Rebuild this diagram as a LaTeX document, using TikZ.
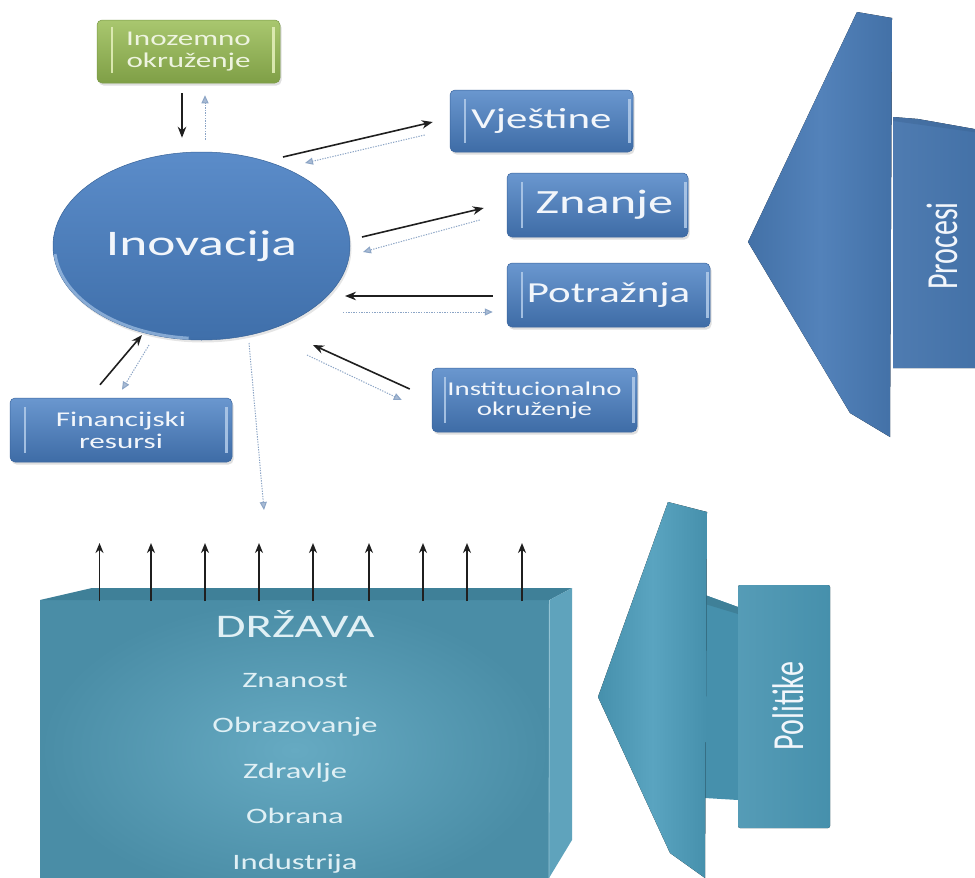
\documentclass[tikz,border=0pt]{standalone}
\usepackage{fontspec}
\setmainfont{Carlito}
\usetikzlibrary{shapes.geometric,arrows.meta,shadows,calc}
\definecolor{btop}{HTML}{6A97CF}
\definecolor{bbot}{HTML}{3E6CA6}
\definecolor{bedge}{HTML}{3A659E}
\definecolor{bbar}{HTML}{B3CCEA}
\definecolor{ctop}{HTML}{5B8CC9}
\definecolor{cbot}{HTML}{3F6FAA}
\definecolor{crim}{HTML}{B5D0EE}
\definecolor{gtop}{HTML}{A9C76F}
\definecolor{gbot}{HTML}{7F9F46}
\definecolor{gedge}{HTML}{7B9B48}
\definecolor{gbar}{HTML}{E2EEB8}
\definecolor{gtxt}{HTML}{EEF4E0}
\definecolor{txtw}{HTML}{F2F6FB}
\definecolor{dotc}{HTML}{8CA5C6}
\definecolor{pdark}{HTML}{4371A7}
\definecolor{pmid}{HTML}{5382BA}
\definecolor{tdark}{HTML}{4A8DA6}
\definecolor{tmid}{HTML}{66AAC2}
\definecolor{ttop}{HTML}{3F8098}
\definecolor{tside}{HTML}{5FA3BC}
\definecolor{ttxt}{HTML}{E0F0F5}
\definecolor{podark}{HTML}{4690AC}
\definecolor{pomid}{HTML}{5AA4C0}
\newcommand\stx[1]{\scalebox{1.48}[1]{#1}}
\begin{document}
\begin{tikzpicture}[x=1pt,y=-1pt,
  every node/.style={text=txtw},
  bluebox/.style={rectangle, rounded corners=5pt, draw=bedge, line width=0.5pt,
    top color=btop, bottom color=bbot, inner sep=0pt, align=center,
    drop shadow={opacity=0.25, shadow xshift=1.5pt, shadow yshift=-2.5pt}},
  greenbox/.style={bluebox, draw=gedge, top color=gtop, bottom color=gbot, text=gtxt},
  barline/.style={draw=bbar, line width=2.5pt, opacity=0.85},
  gbarline/.style={draw=gbar, line width=2.5pt, opacity=0.9},
  blk/.style={draw=black!88, line width=1.6pt, -{Stealth[length=11pt,width=8.5pt]}},
  dotarr/.style={draw=dotc, line width=1pt, dash pattern=on 1.3pt off 1.3pt,
    -{Triangle[length=8pt,width=7pt,color=dotc,fill=dotc!75]}},
  vtext/.style={font=\fontsize{30}{32}\selectfont, inner sep=0pt},
  drztxt/.style={text=ttxt, anchor=base, inner sep=0pt, font=\fontsize{22}{24}\selectfont}
]
\useasboundingbox (0,0) rectangle (975,878);
\clip (0,0) rectangle (975,878);
\fill[white] (0,0) rectangle (975,878);

% ---------- Procesi arrow ----------
\fill[left color=pdark, right color=pdark, middle color=pmid]
  (748,242) -- (857,12) -- (892,18) -- (890,437) -- (850,413) -- cycle;
\fill[left color=pmid!95!black, right color=pdark]
  (893,117) -- (918,119) -- (980,130) -- (980,368) -- (893,368) -- cycle;
\fill[pdark!85!black, opacity=0.35] (893,117) -- (918,119) -- (980,130) -- (980,133) -- (893,121) -- cycle;
\node[vtext] (pro) at (942,246) {\stx{\rotatebox{90}{Procesi}}};

% ---------- Politike arrow ----------
\fill[podark] (705,595) -- (738,607) -- (738,800) -- (705,798) -- cycle;
\fill[ttop] (705,595) -- (738,607) -- (738,614) -- (705,604) -- cycle;
\fill[left color=podark, right color=podark, middle color=pomid]
  (598,697) -- (668,502) -- (707,512) -- (705,878) -- (670,853) -- cycle;
\fill[left color=pomid!95!black, right color=podark, rounded corners=2pt]
  (738,585) rectangle (830,828);
\node[vtext] (pol) at (788,706) {\stx{\rotatebox{90}{Politike}}};

% ---------- DRZAVA box ----------
\node[anchor=north west, minimum width=509pt, minimum height=300pt, inner sep=0pt,
      shading=radial, inner color=tmid, outer color=tdark] (drz) at (40,600) {};
\fill[ttop] (drz.north west) -- (92,588) -- (572,588) -- (drz.north east) -- cycle;
\fill[tside] (drz.north east) -- (572,588) -- (572,840) -- (549,878) -- cycle;
\draw[tmid!70!white, line width=0.8pt] (drz.north east) -- (549,878);

\foreach \x [count=\i] in {99.5,151,205,259,313,369,423,467,522} {
  \coordinate (u\i) at ($(drz.north west)+(\x-40,-57)$);
  \draw[black!88, line width=1.8pt, -{Stealth[length=10pt,width=8pt]}]
    ($(drz.north west)+(\x-40,1)$) -- (u\i);
}

\node[drztxt, font=\fontsize{33}{36}\selectfont] (dt) at (295,637) {\stx{DRŽAVA}};
\node[drztxt] (d1) at (295,687) {\stx{Znanost}};
\node[drztxt] (d2) at (295,732) {\stx{Obrazovanje}};
\node[drztxt] (d3) at (295,778) {\stx{Zdravlje}};
\node[drztxt] (d4) at (295,823) {\stx{Obrana}};
\node[drztxt] (d5) at (295,869) {\stx{Industrija}};

% ---------- nodes ----------
\node[greenbox, minimum width=183pt, minimum height=63pt,
      font=\fontsize{21}{22}\selectfont] (gbox) at (188.5,51.5)
      {\stx{Inozemno}\\\stx{okruženje}};
\node[ellipse, minimum width=297pt, minimum height=188pt, inner sep=0pt,
      top color=ctop, bottom color=cbot, draw=cbot!90!black, line width=0.5pt,
      drop shadow={opacity=0.2, shadow xshift=1.5pt, shadow yshift=-2.5pt},
      font=\fontsize{36}{40}\selectfont] (ino) at (201.5,246) {\stx{Inovacija}};
\draw[crim, line width=3pt, opacity=0.6]
  ($(ino.center)+(95:147 and 92.5)$) arc[start angle=95, end angle=175, x radius=147, y radius=92.5];

\node[bluebox, minimum width=183pt, minimum height=62pt,
      font=\fontsize{29}{30}\selectfont] (vje) at (541.5,121) {\stx{Vještine}};
\node[bluebox, minimum width=181pt, minimum height=64pt,
      font=\fontsize{34}{36}\selectfont] (zna) at (597.5,205) {\hspace*{14pt}\stx{Znanje}};
\node[bluebox, minimum width=203pt, minimum height=64pt,
      font=\fontsize{29}{30}\selectfont] (pot) at (608.5,295) {\stx{Potražnja}};
\node[bluebox, minimum width=205pt, minimum height=64pt,
      font=\fontsize{19.5}{20}\selectfont] (ins) at (534.5,400)
      {\stx{Institucionalno}\\\stx{okruženje}};
\node[bluebox, minimum width=222pt, minimum height=64pt,
      font=\fontsize{21}{22}\selectfont] (fin) at (121,430)
      {\stx{Financijski}\\\stx{resursi}};

% inner light bars
\foreach \n/\l/\r in {vje/15/4, zna/15/3, pot/15/3, ins/13/4, fin/15/6} {
  \draw[barline] ([shift={(\l,9)}]\n.north west) -- ([shift={(\l,-9)}]\n.south west);
  \draw[barline] ([shift={(-\r,9)}]\n.north east) -- ([shift={(-\r,-9)}]\n.south east);
}
\draw[gbarline] ([shift={(15,7)}]gbox.north west) -- ([shift={(15,-10)}]gbox.south west);
\draw[gbarline] ([shift={(-7,7)}]gbox.north east) -- ([shift={(-7,-10)}]gbox.south east);

% ---------- connectors ----------
\draw[blk, line width=2.6pt] ([shift={(-6.5,10)}]gbox.south) -- ([shift={(-19.5,-14)}]ino.north);
\draw[dotarr] ([shift={(3.5,-12)}]ino.north) -- ([shift={(16.5,12)}]gbox.south);

\draw[blk] ([shift={(81.5,-89)}]ino.center) -- ([shift={(-17,1)}]vje.west);
\draw[dotarr] ([shift={(-25,14)}]vje.west) -- ([shift={(103.5,-83)}]ino.center);

\draw[blk] ([shift={(160.5,-9)}]ino.center) -- ([shift={(-23,3)}]zna.west);
\draw[dotarr] ([shift={(-27,15)}]zna.west) -- ([shift={(161.5,6)}]ino.center);

\draw[blk] ([shift={(-14,1)}]pot.west) -- ([shift={(143.5,50)}]ino.center);
\draw[dotarr] ([shift={(141.5,66)}]ino.center) -- ([shift={(-14,17)}]pot.west);

\draw[blk] ([shift={(-22,-11)}]ins.west) -- ([shift={(111.5,99)}]ino.center);
\draw[dotarr] ([shift={(105.5,109)}]ino.center) -- ([shift={(-30,0)}]ins.west);

\draw[blk] ([shift={(-21,-13)}]fin.north) -- ([shift={(-59.5,89)}]ino.center);
\draw[dotarr] ([shift={(-52.5,99)}]ino.center) -- ([shift={(1,-8)}]fin.north);

\coordinate (dz) at ($(drz.north west)+(224,-90)$);
\draw[dotarr] ([shift={(47.5,97)}]ino.center) -- (dz);
\end{tikzpicture}
\end{document}
